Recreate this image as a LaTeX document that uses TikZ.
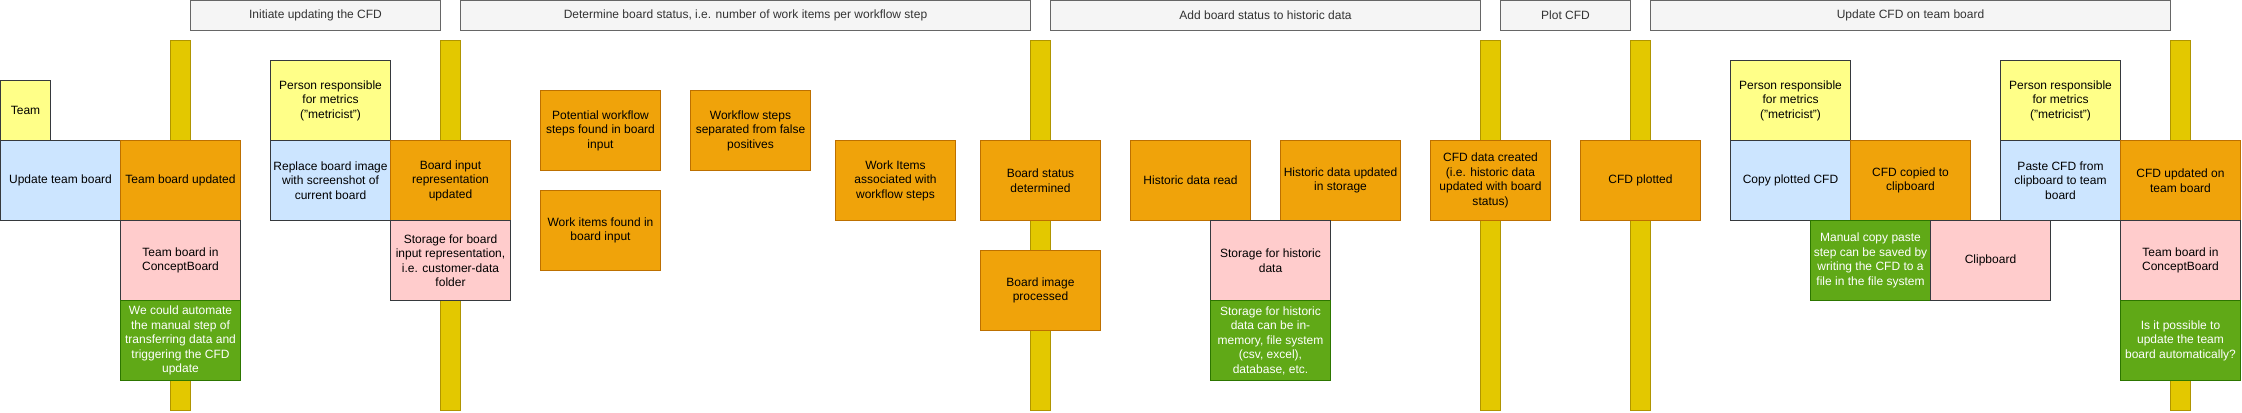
\documentclass[tikz,border=0pt]{standalone}
\usepackage{fontspec}
\setmainfont{Liberation Sans}
\definecolor{notefill}{HTML}{FFFF88}
\definecolor{darkline}{HTML}{36393D}
\definecolor{actfill}{HTML}{CCE5FF}
\definecolor{statefill}{HTML}{F0A30A}
\definecolor{statedraw}{HTML}{BD7000}
\definecolor{storefill}{HTML}{FFCCCC}
\definecolor{ideafill}{HTML}{60A917}
\definecolor{ideadraw}{HTML}{2D7600}
\definecolor{barfill}{HTML}{E3C800}
\definecolor{bardraw}{HTML}{B09500}
\definecolor{headfill}{HTML}{F5F5F5}
\definecolor{headdraw}{HTML}{666666}
\definecolor{headtext}{HTML}{333333}
\begin{document}
\begin{tikzpicture}[x=0.25cm, y=-0.25cm, line width=0.7pt,
    card/.style={minimum width=3cm, minimum height=2cm, inner sep=0pt, align=center,
      font=\fontsize{8.54}{10.3}\selectfont},
    note/.style={card, draw=darkline, fill=notefill},
    act/.style={card, draw=darkline, fill=actfill},
    state/.style={card, draw=statedraw, fill=statefill},
    store/.style={card, draw=darkline, fill=storefill},
    idea/.style={card, draw=ideadraw, fill=ideafill, text=white},
    phase/.style={card, minimum height=0.75cm, draw=headdraw, fill=headfill, text=headtext},
    swimbar/.style={minimum width=0.5cm, minimum height=9.25cm, inner sep=0pt, draw=bardraw, fill=barfill}]
    \useasboundingbox (-0.05,-0.05) rectangle (224.15,41.15);
    % time bars
    \node (bar1) at (18,22.5) [swimbar] {};
    \node (bar2) at (45,22.5) [swimbar] {};
    \node (bar3) at (104,22.5) [swimbar] {};
    \node (bar4) at (149,22.5) [swimbar] {};
    \node (bar5) at (164,22.5) [swimbar] {};
    \node (bar6) at (218,22.5) [swimbar] {};
    % phases
    \node (initiate) at (31.5,1.5) [phase, minimum width=6.25cm] {Initiate updating the CFD};
    \node (determine) at (74.5,1.5) [phase, minimum width=14.25cm] {Determine board status, i.e. number of work items per workflow step};
    \node (addhist) at (126.5,1.5) [phase, minimum width=10.75cm] {Add board status to historic data};
    \node (plot) at (156.5,1.5) [phase, minimum width=3.25cm] {Plot CFD};
    \node (updcfd) at (191,1.5) [phase, minimum width=13cm] {Update CFD on team board};
    % initiate
    \node (team) at (2.5,11) [note, minimum width=1.25cm, minimum height=1.5cm] {Team};
    \node (updboard) at (6,18) [act] {Update team board};
    \node (boardupd) at (18,18) [state] {Team board updated};
    \node (cboard) at (18,26) [store] {Team board in\\ConceptBoard};
    \node (automate) at (18,34) [idea] {We could automate\\the manual step of\\transferring data and\\triggering the CFD\\update};
    \node (metric1) at (33,10) [note] {Person responsible\\for metrics\\("metricist")};
    \node (replace) at (33,18) [act] {Replace board image\\with screenshot of\\current board};
    \node (inputupd) at (45,18) [state] {Board input\\representation\\updated};
    \node (inputstore) at (45,26) [store] {Storage for board\\input representation,\\i.e. customer-data\\folder};
    % determine
    \node (stepsfound) at (60,13) [state] {Potential workflow\\steps found in board\\input};
    \node (itemsfound) at (60,23) [state] {Work items found in\\board input};
    \node (stepssep) at (75,13) [state] {Workflow steps\\separated from false\\positives};
    \node (itemsassoc) at (89.5,18) [state] {Work Items\\associated with\\workflow steps};
    \node (status) at (104,18) [state] {Board status\\determined};
    \node (imgdone) at (104,29) [state] {Board image\\processed};
    % historic data
    \node (histread) at (119,18) [state] {Historic data read};
    \node (histupd) at (134,18) [state] {Historic data updated\\in storage};
    \node (histstore) at (127,26) [store] {Storage for historic\\data};
    \node (histidea) at (127,34) [idea] {Storage for historic\\data can be in-\\memory, file system\\(csv, excel),\\database, etc.};
    \node (cfddata) at (149,18) [state] {CFD data created\\(i.e. historic data\\updated with board\\status)};
    % plot
    \node (plotted) at (164,18) [state] {CFD plotted};
    % update team board
    \node (metric2) at (179,10) [note] {Person responsible\\for metrics\\("metricist")};
    \node (copy) at (179,18) [act] {Copy plotted CFD};
    \node (copied) at (191,18) [state] {CFD copied to\\clipboard};
    \node (saveidea) at (187,26) [idea] {Manual copy paste\\step can be saved by\\writing the CFD to a\\file in the file system};
    \node (clip) at (199,26) [store] {Clipboard};
    \node (metric3) at (206,10) [note] {Person responsible\\for metrics\\("metricist")};
    \node (paste) at (206,18) [act] {Paste CFD from\\clipboard to team\\board};
    \node (cfdupd) at (218,18) [state] {CFD updated on\\team board};
    \node (cboard2) at (218,26) [store] {Team board in\\ConceptBoard};
    \node (autoidea) at (218,34) [idea] {Is it possible to\\update the team\\board automatically?};
\end{tikzpicture}
\end{document}
